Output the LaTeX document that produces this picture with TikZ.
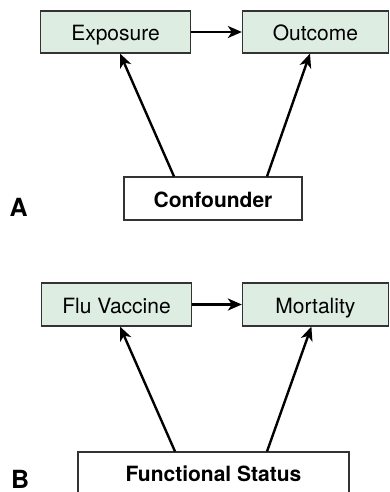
\documentclass[tikz,border=0pt]{standalone}
\usepackage{fontspec}
\setmainfont{TeX Gyre Heros}
\usepackage{tikz}
\usetikzlibrary{arrows.meta}
\definecolor{boxgreen}{HTML}{DEEDE2}
\definecolor{boxline}{HTML}{333333}

\begin{document}
\begin{tikzpicture}[x=1pt,y=-1pt,
    var/.style={rectangle,draw=boxline,line width=1.1pt,fill=boxgreen,
                minimum width=150pt,minimum height=42pt,inner sep=0pt,
                text height=18pt,text depth=0pt,
                font=\fontsize{21}{24}\selectfont},
    conf/.style={rectangle,draw=boxline,line width=1.1pt,fill=white,
                 minimum height=43pt,inner sep=0pt,
                 text height=18pt,text depth=0pt,
                 font=\fontsize{21}{24}\selectfont\bfseries},
    panel/.style={anchor=base west,inner sep=0pt,
                  font=\fontsize{25}{28}\selectfont\bfseries},
    arr/.style={-{Stealth[length=14pt,width=12pt,inset=4pt]},line width=2.4pt}
  ]
    \useasboundingbox (0,0) rectangle (389,492);
    \clip (0,0) rectangle (389,492);

    % A: generic confounding
    \node[var] (exp) at (115.5,32) {Exposure};
    \node[var,minimum width=146pt] (out) at (315.4,32) {Outcome};
    \node[conf,minimum width=178pt] (cf) at (213,198.5) {Confounder};
    \node[panel] (la) at (9.5,216) {A};
    \draw[arr] (exp) -- (out);
    \draw[arr] ([xshift=-39pt]cf.north) -- ([xshift=4.5pt]exp.south);
    \draw[arr] ([xshift=54pt]cf.north) -- ([xshift=-5.4pt]out.south);

    % B: flu vaccine example
    \node[var,minimum height=43pt] (flu) at (116.5,304.5) {Flu Vaccine};
    \node[var,minimum width=146pt,minimum height=43pt] (mort) at (315.4,304.5) {Mortality};
    \node[conf,minimum width=271pt,minimum height=60pt] (fs) at (213.5,482) {};
    \node[text height=18pt,text depth=0pt,inner sep=0pt,
          font=\fontsize{21}{24}\selectfont\bfseries] (fst) at (213.5,472.7) {Functional Status};
    \node[panel] (lb) at (11,488) {B};
    \draw[arr] (flu) -- (mort);
    \draw[arr] ([xshift=-38.5pt]fs.north) -- ([xshift=3.5pt]flu.south);
    \draw[arr] ([xshift=53.5pt]fs.north) -- ([xshift=-4pt]mort.south);
  \end{tikzpicture}
\end{document}
